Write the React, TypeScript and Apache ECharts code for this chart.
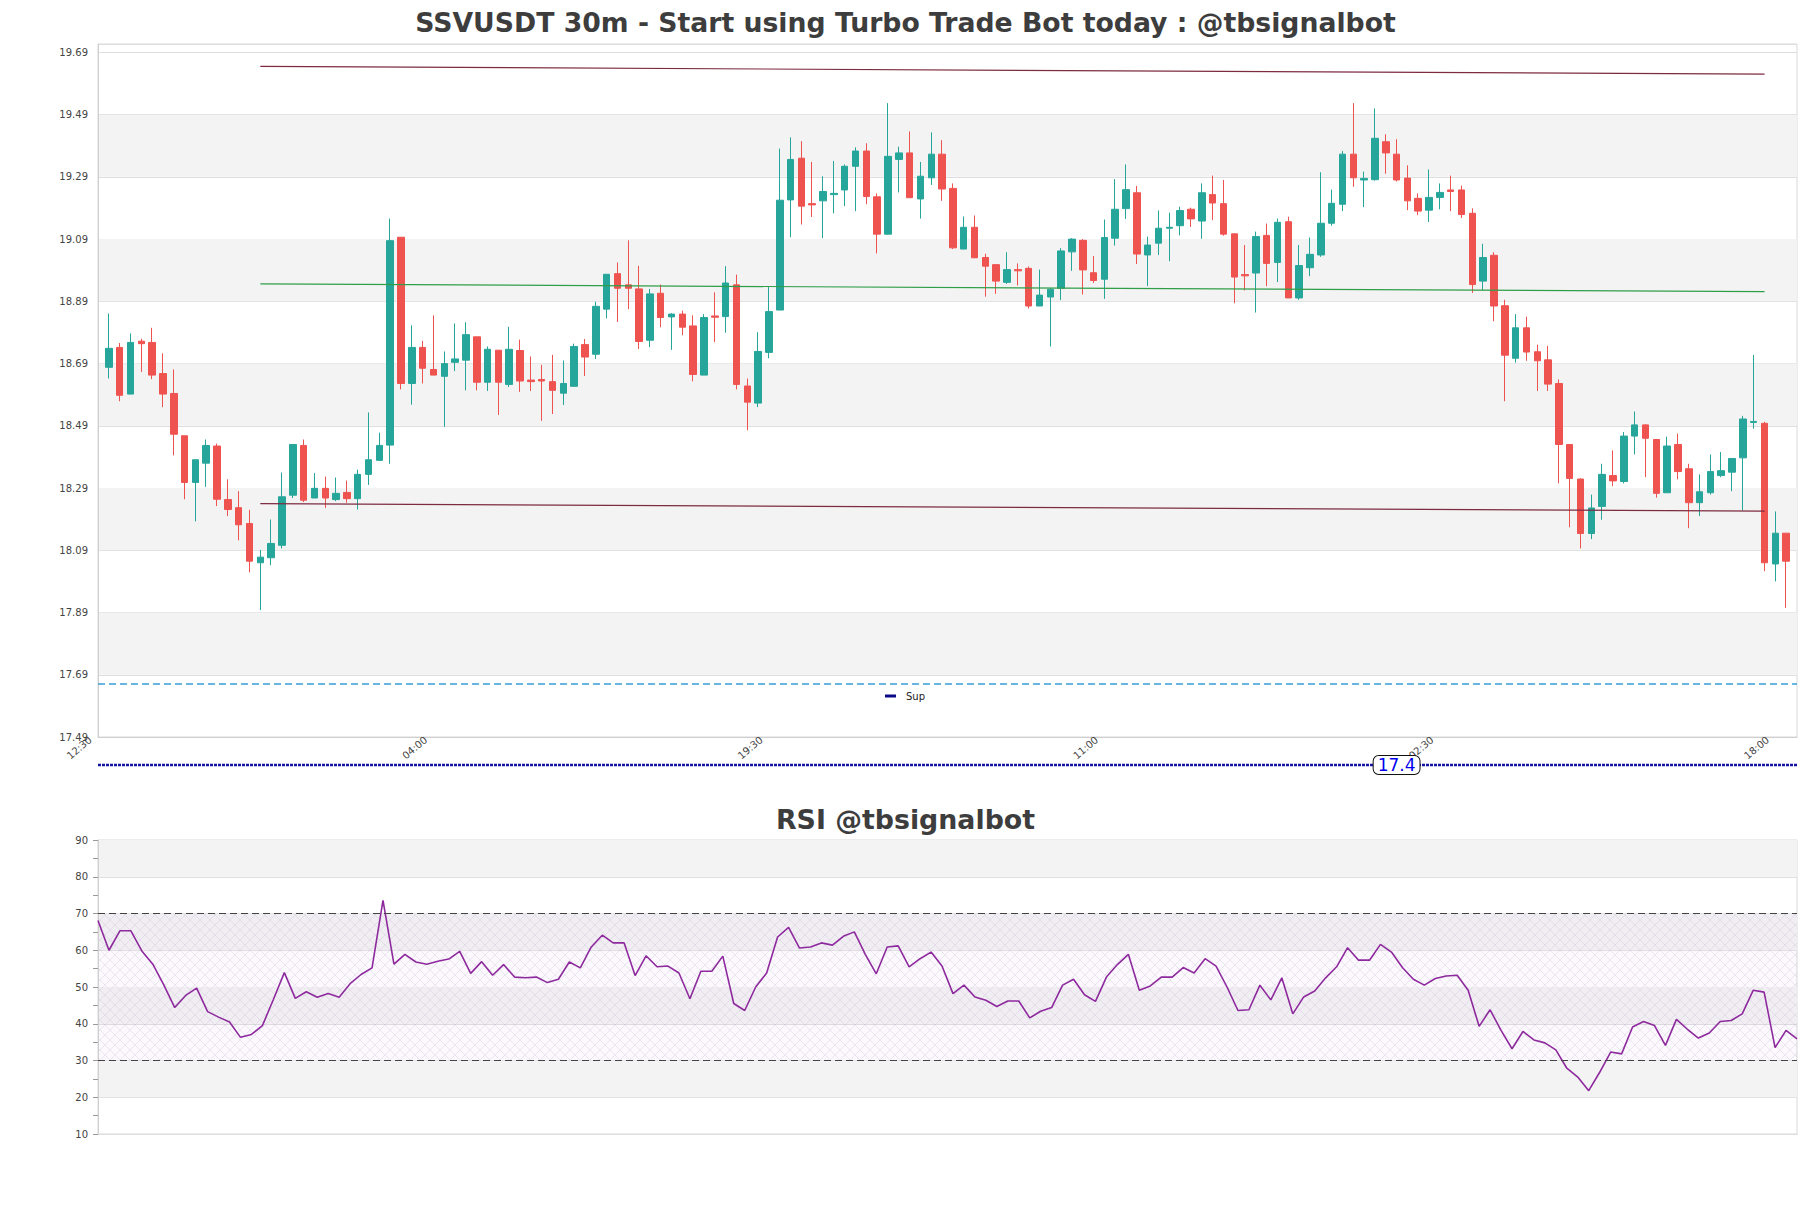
import React, { useEffect, useRef } from 'react';
import * as echarts from 'echarts';

// ---------- data ----------
const START_HOUR = 12;
const START_MINUTE = 30;
const SLOT_MINUTES = 30;
const LABEL_EVERY = 31; // category slots between time labels
const PAD = 1; // empty slot on each side of the candles

const opens = [
  18.678, 18.742, 18.592, 18.762, 18.758, 18.658, 18.594, 18.458, 18.308, 18.370,
  18.425, 18.253, 18.227, 18.176, 18.050, 18.066, 18.106, 18.267, 18.427, 18.258,
  18.289, 18.253, 18.276, 18.256, 18.334, 18.379, 18.428, 19.096, 18.626, 18.742,
  18.671, 18.649, 18.694, 18.701, 18.776, 18.630, 18.733, 18.623, 18.732, 18.637,
  18.639, 18.632, 18.595, 18.617, 18.751, 18.720, 18.865, 18.979, 18.943, 18.930,
  18.765, 18.916, 18.840, 18.849, 18.811, 18.653, 18.843, 18.841, 18.943, 18.618,
  18.563, 18.726, 18.862, 19.216, 19.350, 19.204, 19.213, 19.233, 19.248, 19.324,
  19.373, 19.226, 19.106, 19.346, 19.367, 19.219, 19.287, 19.363, 19.253, 19.058,
  19.128, 19.031, 19.008, 18.951, 18.992, 18.996, 18.875, 18.904, 18.932, 19.049,
  19.086, 18.982, 18.961, 19.093, 19.188, 19.239, 19.039, 19.077, 19.125, 19.133,
  19.186, 19.148, 19.233, 19.204, 19.107, 18.976, 18.981, 19.102, 19.015, 19.146,
  18.901, 18.998, 19.039, 19.141, 19.202, 19.363, 19.280, 19.281, 19.403, 19.363,
  19.286, 19.221, 19.183, 19.224, 19.248, 19.248, 19.173, 18.955, 19.038, 18.876,
  18.707, 18.805, 18.728, 18.702, 18.626, 18.430, 18.319, 18.144, 18.231, 18.330,
  18.311, 18.457, 18.493, 18.446, 18.275, 18.430, 18.352, 18.243, 18.275, 18.330,
  18.341, 18.387, 18.501, 18.498, 18.046, 18.145,
];
const closes = [
  18.739, 18.588, 18.758, 18.754, 18.653, 18.592, 18.463, 18.308, 18.381, 18.427,
  18.254, 18.221, 18.172, 18.055, 18.068, 18.112, 18.262, 18.430, 18.251, 18.289,
  18.258, 18.273, 18.256, 18.334, 18.381, 18.427, 19.085, 18.626, 18.742, 18.675,
  18.653, 18.690, 18.705, 18.783, 18.630, 18.736, 18.630, 18.736, 18.634, 18.632,
  18.634, 18.604, 18.626, 18.745, 18.711, 18.874, 18.977, 18.932, 18.932, 18.761,
  18.914, 18.838, 18.849, 18.807, 18.655, 18.838, 18.839, 18.949, 18.623, 18.566,
  18.729, 18.857, 19.215, 19.346, 19.196, 19.200, 19.243, 19.237, 19.324, 19.373,
  19.227, 19.106, 19.356, 19.367, 19.223, 19.292, 19.363, 19.251, 19.062, 19.128,
  19.030, 19.003, 18.955, 18.992, 18.988, 18.875, 18.910, 18.929, 19.052, 19.090,
  18.991, 18.957, 19.095, 19.186, 19.249, 19.042, 19.071, 19.125, 19.128, 19.182,
  19.155, 19.239, 19.206, 19.106, 18.968, 18.972, 19.098, 19.012, 19.144, 18.901,
  19.005, 19.041, 19.141, 19.205, 19.363, 19.287, 19.285, 19.414, 19.367, 19.280,
  19.213, 19.180, 19.224, 19.240, 19.243, 19.169, 18.944, 19.031, 18.875, 18.717,
  18.805, 18.727, 18.699, 18.624, 18.430, 18.321, 18.144, 18.226, 18.334, 18.313,
  18.457, 18.493, 18.450, 18.273, 18.425, 18.343, 18.243, 18.278, 18.343, 18.346,
  18.385, 18.512, 18.504, 18.050, 18.145, 18.055,
];
const lows = [
  18.642, 18.569, 18.592, 18.663, 18.640, 18.550, 18.395, 18.254, 18.183, 18.294,
  18.232, 18.200, 18.122, 18.019, 17.898, 18.042, 18.096, 18.258, 18.245, 18.258,
  18.226, 18.248, 18.243, 18.221, 18.300, 18.379, 18.368, 18.607, 18.558, 18.626,
  18.653, 18.487, 18.666, 18.604, 18.604, 18.602, 18.525, 18.615, 18.599, 18.602,
  18.506, 18.528, 18.557, 18.617, 18.650, 18.705, 18.835, 18.824, 18.865, 18.737,
  18.743, 18.807, 18.734, 18.781, 18.633, 18.653, 18.759, 18.789, 18.607, 18.476,
  18.550, 18.707, 18.862, 19.096, 19.137, 19.161, 19.093, 19.173, 19.196, 19.180,
  19.202, 19.044, 19.104, 19.240, 19.223, 19.156, 19.264, 19.213, 19.058, 19.058,
  19.030, 18.905, 18.914, 18.946, 18.941, 18.867, 18.875, 18.745, 18.894, 18.988,
  18.912, 18.949, 18.898, 19.069, 19.155, 19.010, 18.939, 19.039, 19.019, 19.102,
  19.129, 19.091, 19.151, 19.101, 18.884, 18.925, 18.854, 18.939, 18.952, 18.901,
  18.895, 18.971, 19.033, 19.133, 19.180, 19.258, 19.193, 19.278, 19.300, 19.275,
  19.183, 19.167, 19.145, 19.186, 19.180, 19.158, 18.917, 18.925, 18.826, 18.569,
  18.693, 18.699, 18.602, 18.602, 18.305, 18.164, 18.096, 18.126, 18.188, 18.296,
  18.305, 18.398, 18.325, 18.259, 18.275, 18.318, 18.161, 18.200, 18.269, 18.325,
  18.280, 18.218, 18.481, 18.023, 17.990, 17.905,
];
const highs = [
  18.851, 18.756, 18.787, 18.770, 18.805, 18.723, 18.671, 18.458, 18.381, 18.446,
  18.433, 18.318, 18.280, 18.220, 18.091, 18.189, 18.340, 18.430, 18.446, 18.338,
  18.327, 18.324, 18.314, 18.349, 18.533, 18.468, 19.156, 19.096, 18.813, 18.763,
  18.845, 18.729, 18.819, 18.823, 18.776, 18.745, 18.733, 18.808, 18.767, 18.713,
  18.686, 18.718, 18.700, 18.754, 18.769, 18.889, 18.977, 19.015, 19.086, 19.004,
  18.930, 18.944, 18.852, 18.860, 18.845, 18.849, 18.919, 19.003, 18.976, 18.642,
  18.791, 18.936, 19.381, 19.417, 19.405, 19.338, 19.292, 19.341, 19.330, 19.385,
  19.398, 19.237, 19.527, 19.387, 19.436, 19.338, 19.433, 19.408, 19.269, 19.163,
  19.166, 19.043, 19.008, 19.048, 19.012, 19.002, 18.992, 18.932, 19.061, 19.093,
  19.090, 19.036, 19.153, 19.283, 19.330, 19.261, 19.098, 19.182, 19.175, 19.194,
  19.191, 19.269, 19.294, 19.280, 19.107, 19.071, 19.114, 19.140, 19.156, 19.162,
  19.071, 19.095, 19.305, 19.249, 19.373, 19.527, 19.307, 19.510, 19.427, 19.411,
  19.327, 19.237, 19.314, 19.269, 19.294, 19.262, 19.189, 19.075, 19.048, 18.895,
  18.849, 18.841, 18.751, 18.747, 18.639, 18.430, 18.321, 18.269, 18.368, 18.411,
  18.470, 18.536, 18.495, 18.446, 18.455, 18.465, 18.368, 18.334, 18.398, 18.406,
  18.385, 18.522, 18.718, 18.503, 18.215, 18.145,
];

const rsiValues = [
  68.1, 60.0, 65.3, 65.3, 59.8, 56.2, 50.6, 44.4, 47.7, 49.7,
  43.3, 41.8, 40.5, 36.3, 37.1, 39.5, 46.6, 53.9, 46.9, 48.7,
  47.2, 48.2, 47.2, 50.9, 53.4, 55.2, 73.6, 56.2, 58.9, 56.8,
  56.2, 57.0, 57.6, 59.7, 53.7, 56.9, 53.2, 56.1, 52.7, 52.5,
  52.7, 51.2, 52.1, 56.8, 55.2, 60.9, 64.1, 62.0, 62.0, 53.1,
  58.5, 55.5, 55.7, 53.8, 46.8, 54.3, 54.3, 58.4, 45.5, 43.6,
  50.0, 53.8, 63.6, 66.2, 60.6, 60.9, 62.0, 61.4, 63.8, 65.0,
  58.9, 53.6, 60.9, 61.2, 55.5, 57.7, 59.5, 55.7, 48.2, 50.5,
  47.3, 46.4, 44.7, 46.2, 46.2, 41.6, 43.4, 44.4, 50.5, 52.1,
  47.9, 46.1, 52.7, 56.1, 58.9, 49.1, 50.3, 52.7, 52.7, 55.3,
  53.8, 57.7, 55.7, 50.0, 43.6, 43.8, 50.5, 46.5, 52.5, 42.7,
  47.3, 48.9, 52.5, 55.5, 60.7, 57.3, 57.3, 61.6, 59.5, 55.3,
  52.1, 50.5, 52.3, 53.0, 53.2, 49.1, 39.3, 43.8, 38.2, 33.2,
  37.9, 35.6, 34.8, 32.9, 27.9, 25.5, 21.8, 26.8, 32.3, 31.8,
  39.1, 40.6, 39.5, 34.1, 41.2, 38.5, 36.1, 37.5, 40.6, 40.9,
  42.7, 49.1, 48.6, 33.5, 38.2, 35.9,
];

// trend lines: [category index start, value start, category index end, value end]
const upperLine = [15, 19.645, 154, 19.62];
const middleLine = [15, 18.946, 154, 18.921];
const lowerLine = [15, 18.24, 154, 18.216];

const SUP_LEVEL = 17.665;
const LOW_LEVEL = 17.4;
const LOW_LABEL = '17.4';
const LOW_LABEL_INDEX = 120;

const PRICE_MIN = 17.49;
const PRICE_MAX = 19.717;
const PRICE_STEP = 0.2;
const RSI_MIN = 10;
const RSI_MAX = 90;
const RSI_STEP = 10;
const RSI_UPPER = 70;
const RSI_LOWER = 30;

const MAIN_TITLE = 'SSVUSDT 30m - Start using Turbo Trade Bot today : @tbsignalbot';
const RSI_TITLE = 'RSI @tbsignalbot';

// ---------- helpers ----------
const FONT = 'DejaVu Sans';
const pad2 = (n: number) => (n < 10 ? '0' + n : '' + n);

function buildCategories(count: number) {
  const out: string[] = [];
  for (let i = 0; i < count; i++) {
    const mins = START_HOUR * 60 + START_MINUTE + i * SLOT_MINUTES;
    const m = ((mins % 1440) + 1440) % 1440;
    out.push(pad2(Math.floor(m / 60)) + ':' + pad2(m % 60));
  }
  return out;
}

const hatchSvg =
  "<svg xmlns='http://www.w3.org/2000/svg' width='10' height='10'>" +
  "<path d='M0 0L10 10M10 0L0 10' stroke='#bcaec8' stroke-width='0.6' stroke-opacity='0.45' fill='none'/></svg>";
const hatchUrl = 'data:image/svg+xml;charset=utf-8,' + encodeURIComponent(hatchSvg);

function slotCount() {
  return opens.length + PAD * 2;
}

function buildOption() {
  const n = opens.length;
  const categories = buildCategories(slotCount());
  const empty = ['-', '-', '-', '-'];
  const candleData: any[] = [];
  for (let i = 0; i < PAD; i++) candleData.push(empty);
  for (let i = 0; i < n; i++) candleData.push([opens[i], closes[i], lows[i], highs[i]]);
  for (let i = 0; i < PAD; i++) candleData.push(empty);

  const priceBands: any[] = [];
  const bandCount = Math.round((PRICE_MAX - PRICE_MIN) / PRICE_STEP);
  for (let i = 0; i < bandCount; i++) {
    if (i % 2 === 1) {
      const a = +(PRICE_MIN + i * PRICE_STEP).toFixed(3);
      const b = +(PRICE_MIN + (i + 1) * PRICE_STEP).toFixed(3);
      priceBands.push([{ yAxis: a }, { yAxis: b }]);
    }
  }
  const rsiBands: any[] = [];
  for (let v = RSI_MIN, i = 0; v < RSI_MAX; v += RSI_STEP, i++) {
    if (i % 2 === 1) rsiBands.push([{ yAxis: v }, { yAxis: v + RSI_STEP }]);
  }
  rsiBands.push([
    { yAxis: RSI_LOWER, itemStyle: { color: 'rgba(205,180,225,0.08)' } },
    { yAxis: RSI_UPPER },
  ]);
  rsiBands.push([
    {
      yAxis: RSI_LOWER,
      itemStyle: { color: { image: hatchUrl, repeat: 'repeat', imageWidth: 10, imageHeight: 10 } as any },
    },
    { yAxis: RSI_UPPER },
  ]);

  const seg = (l: number[], color: string) => ({
    data: [[{ coord: [l[0], l[1]] }, { coord: [l[2], l[3]] }]],
    color,
  });
  const segs = [seg(upperLine, '#7d2b40'), seg(middleLine, '#2f9e48'), seg(lowerLine, '#7d2b40')];

  const rsiCats = rsiValues.map((_, i) => String(i));

  return {
    animation: false,
    backgroundColor: '#ffffff',
    textStyle: { fontFamily: FONT },
    title: [
      {
        text: MAIN_TITLE,
        left: 'center',
        top: 4,
        textStyle: { fontSize: 26.7, fontWeight: 'bold', color: '#3d3d3d', fontFamily: FONT },
      },
      {
        text: RSI_TITLE,
        left: 'center',
        top: 801,
        textStyle: { fontSize: 26.8, fontWeight: 'bold', color: '#3d3d3d', fontFamily: FONT },
      },
    ],
    legend: {
      data: ['Sup'],
      left: 885,
      top: 691,
      padding: 0,
      icon: 'rect',
      itemWidth: 11,
      itemHeight: 3,
      itemGap: 5,
      selectedMode: false,
      textStyle: { fontSize: 10, color: '#222', fontFamily: FONT, padding: [0, 0, 0, 5] },
    },
    grid: [
      { left: 98, right: 14, top: 44, height: 693, show: true, borderColor: '#d9d9d9', borderWidth: 1, backgroundColor: 'transparent' },
      { left: 98, right: 14, top: 840, height: 294, show: true, borderColor: '#d9d9d9', borderWidth: 1, backgroundColor: 'transparent' },
    ],
    xAxis: [
      {
        type: 'category',
        gridIndex: 0,
        data: categories,
        boundaryGap: false,
        axisLine: { lineStyle: { color: '#cfcfcf' } },
        axisTick: { show: false },
        splitLine: { show: false },
        axisLabel: {
          interval: (idx: number) => idx % LABEL_EVERY === 0,
          rotate: 40,
          fontSize: 10,
          color: '#444',
          margin: -5,
          padding: [0, 10, 0, 0],
          fontFamily: FONT,
        },
        z: 1,
      },
      {
        type: 'category',
        gridIndex: 1,
        data: rsiCats,
        boundaryGap: false,
        axisLine: { lineStyle: { color: '#cfcfcf' } },
        axisTick: { show: false },
        axisLabel: { show: false },
        splitLine: { show: false },
      },
    ],
    yAxis: [
      {
        type: 'value',
        gridIndex: 0,
        min: PRICE_MIN,
        max: PRICE_MAX,
        interval: PRICE_STEP,
        axisLine: { show: true, lineStyle: { color: '#cfcfcf' } },
        axisTick: { show: false },
        splitLine: { show: true, lineStyle: { color: '#dedede', width: 1 } },
        axisLabel: {
          showMaxLabel: false,
          fontSize: 10,
          color: '#444',
          margin: 10,
          fontFamily: FONT,
          formatter: (v: number) => v.toFixed(2),
        },
        z: 1,
      },
      {
        type: 'value',
        gridIndex: 1,
        min: RSI_MIN,
        max: RSI_MAX,
        interval: RSI_STEP,
        axisLine: { show: true, lineStyle: { color: '#cfcfcf' } },
        axisTick: { show: true, length: 5, lineStyle: { color: '#999' } },
        minorTick: { show: true, splitNumber: 2, length: 5, lineStyle: { color: '#999' } },
        splitLine: { show: true, lineStyle: { color: '#dedede', width: 1 } },
        axisLabel: { fontSize: 10, color: '#444', margin: 10, fontFamily: FONT },
        z: 1,
      },
    ],
    series: [
      {
        name: 'priceBands',
        type: 'line',
        xAxisIndex: 0,
        yAxisIndex: 0,
        data: [],
        silent: true,
        z: 0,
        markArea: { silent: true, itemStyle: { color: '#f3f3f3' }, data: priceBands },
      },
      {
        name: 'Sup',
        type: 'line',
        xAxisIndex: 0,
        yAxisIndex: 0,
        data: [],
        itemStyle: { color: '#0b0b8a' },
        lineStyle: { color: '#0b0b8a' },
        z: 2,
        markLine: {
          silent: true,
          symbol: ['none', 'none'],
          label: { show: false },
          lineStyle: { color: '#3a9fd6', type: [7, 4], width: 1.5 },
          data: [{ yAxis: SUP_LEVEL }],
        },
      },
      ...segs.map((s, i) => ({
        name: 'trend' + i,
        type: 'line',
        xAxisIndex: 0,
        yAxisIndex: 0,
        data: [],
        z: 2,
        markLine: {
          silent: true,
          symbol: ['none', 'none'],
          label: { show: false },
          lineStyle: { color: s.color, type: 'solid', width: 1.2 },
          data: s.data,
        },
      })),
      {
        name: 'price',
        type: 'candlestick',
        xAxisIndex: 0,
        yAxisIndex: 0,
        data: candleData,
        barWidth: 7,
        z: 3,
        itemStyle: {
          color: '#26a69a',
          color0: '#ef5350',
          borderColor: '#26a69a',
          borderColor0: '#ef5350',
          borderWidth: 1,
        },
      },
      {
        name: 'rsiBands',
        type: 'line',
        xAxisIndex: 1,
        yAxisIndex: 1,
        data: [],
        silent: true,
        z: 0,
        markArea: { silent: true, itemStyle: { color: '#f3f3f3' }, data: rsiBands },
      },
      {
        name: 'RSI',
        type: 'line',
        xAxisIndex: 1,
        yAxisIndex: 1,
        data: rsiValues,
        showSymbol: false,
        symbol: 'none',
        z: 3,
        lineStyle: { color: '#8e2a9e', width: 1.6 },
        itemStyle: { color: '#8e2a9e' },
        markLine: {
          silent: true,
          symbol: ['none', 'none'],
          label: { show: false },
          lineStyle: { color: '#444', type: [7, 4], width: 1.2 },
          data: [{ yAxis: RSI_UPPER }, { yAxis: RSI_LOWER }],
        },
      },
    ],
  };
}

export default function App() {
  const ref = useRef<HTMLDivElement>(null);
  useEffect(() => {
    if (!ref.current) return;
    const chart = echarts.init(ref.current, null, { renderer: 'svg' });
    chart.setOption(buildOption() as any);
    const toPx = (idx: number, v: number) =>
      chart.convertToPixel({ gridIndex: 0 } as any, [idx, v]) as number[];
    const pl = toPx(0, LOW_LEVEL);
    const pr = toPx(slotCount() - 1, LOW_LEVEL);
    const p = toPx(LOW_LABEL_INDEX, LOW_LEVEL);
    if (p && pl && pr && isFinite(p[0]) && isFinite(p[1])) {
      chart.setOption({
        graphic: [
          {
            type: 'line',
            z: 40,
            silent: true,
            shape: { x1: pl[0], y1: pl[1], x2: pr[0], y2: pr[1] },
            style: { stroke: '#1414a0', lineWidth: 2.6, lineDash: [3, 1] },
          },
          {
            type: 'text',
            x: p[0],
            y: p[1],
            z: 50,
            style: {
              text: LOW_LABEL,
              fill: '#0000ee',
              fontSize: 17,
              fontFamily: FONT,
              align: 'center',
              verticalAlign: 'middle',
              backgroundColor: '#ffffff',
              borderColor: '#111',
              borderWidth: 1,
              borderRadius: 5,
              padding: [1, 4, 0, 4],
            },
          },
        ],
      });
    }
    return () => chart.dispose();
  }, []);
  return (
    <div
      ref={ref}
      style={{ position: 'fixed', left: 0, top: 0, width: 1811, height: 1208, background: '#fff' }}
    />
  );
}
